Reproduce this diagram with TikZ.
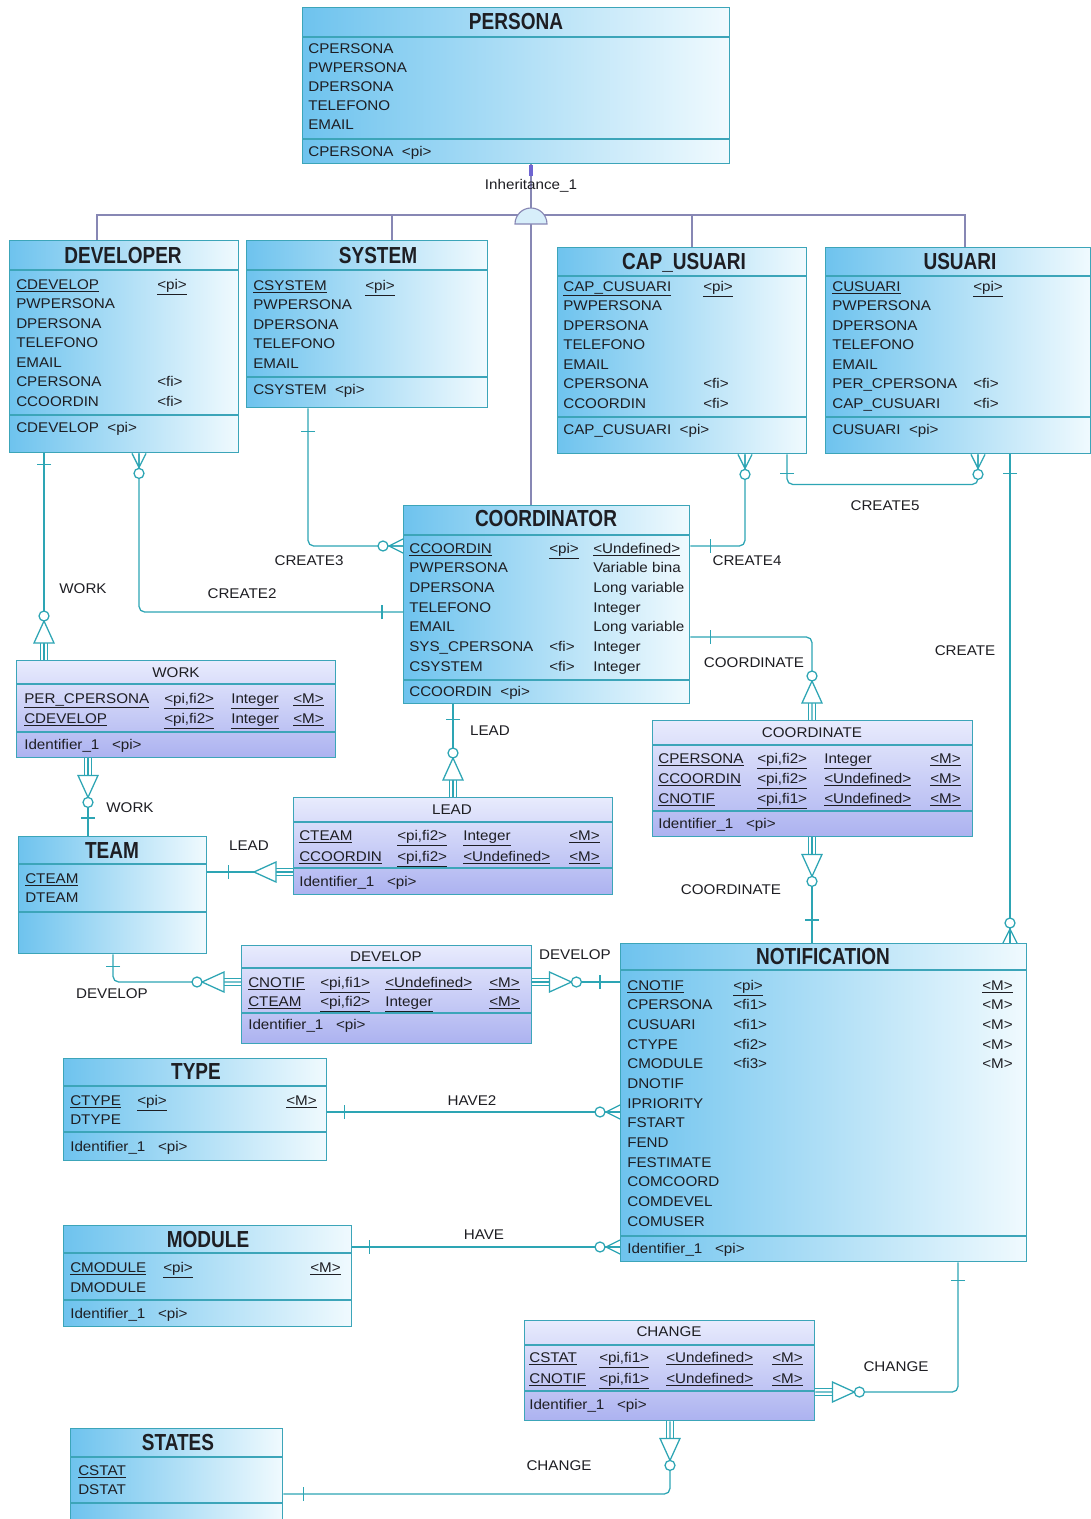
\documentclass[tikz,border=0pt]{standalone}
\usepackage{fontspec}
\setmainfont{Liberation Sans}[FakeStretch=1.08]
\newfontfamily\titlefont{Liberation Sans}[FakeStretch=0.82]
\usetikzlibrary{calc}

\definecolor{relcol}{RGB}{45,165,180}
\definecolor{boxline}{RGB}{60,165,185}
\definecolor{entleft}{RGB}{110,195,238}
\definecolor{entright}{RGB}{240,250,254}
\definecolor{asstop}{RGB}{232,235,253}
\definecolor{assbot}{RGB}{172,178,240}
\definecolor{inhcol}{RGB}{135,135,180}
\definecolor{inhmark}{RGB}{110,100,210}
\definecolor{domefill}{RGB}{215,238,250}
\definecolor{txt}{RGB}{30,30,35}

\tikzset{
  endline/.style={relcol, line width=0.9pt},
  pics/one/.style={code={\draw[endline] (#1,-7) -- (#1,7);}},
  pics/many/.style={code={
    \draw[endline] (0,-7) -- (14,0) -- (0,7) (0,0) -- (14,0);
    \draw[endline, fill=white] (20,0) circle[radius=5];
  }},
  pics/dep/.style={code={
    \draw[endline] (0,-3.5) -- (17,-3.5) (0,3.5) -- (17,3.5);
    \draw[endline, fill=white] (17,-10) -- (39,0) -- (17,10) -- cycle;
  }},
  pics/depc/.style={code={
    \draw[endline] (0,-3.5) -- (17,-3.5) (0,3.5) -- (17,3.5);
    \draw[endline, fill=white] (17,-10) -- (39,0) -- (17,10) -- cycle;
    \draw[endline, fill=white] (44,0) circle[radius=5];
  }},
}

\begin{document}
\begin{tikzpicture}[x=0.025cm, y=-0.025cm,
  every node/.style={text=txt, inner sep=0pt, font=\fontsize{10}{12}\selectfont},
  boxsize/.style 2 args={minimum width=#1*0.025cm, minimum height=#2*0.025cm},
  entity/.style={draw=boxline, line width=1pt, left color=entleft, right color=entright, anchor=north west},
  assoc/.style={draw=boxline, line width=1pt, top color=asstop, bottom color=assbot, anchor=north west},
  sep/.style={boxline, line width=0.9pt},
  attr/.style={anchor=base west},
  title/.style={anchor=base, font=\titlefont\bfseries\fontsize{16.5}{18}\selectfont},
  atitle/.style={anchor=base},
  lab/.style={anchor=base},
  rel/.style={relcol, line width=0.9pt, rounded corners=4pt},
  inhline/.style={inhcol, line width=0.8pt},
]
\path[use as bounding box, fill=white] (0,0) rectangle (1091,1519);

% PERSONA
\node[entity, boxsize={427}{156}] (persona) at (302,7) {};
\draw[sep] (302,37) -- (729,37) (302,139) -- (729,139);
\node[title] (persona-t) at (516,29) {PERSONA};
\foreach \a [count=\i from 0] in {CPERSONA,PWPERSONA,DPERSONA,TELEFONO,EMAIL}
  \node[attr] (persona-a\i) at (308,{53+19*\i}) {\a};
\node[attr] (persona-id) at (308,156) {CPERSONA~~<pi>};

% DEVELOPER
\node[entity, boxsize={229}{212}] (developer) at (9,240) {};
\draw[sep] (9,270) -- (238,270) (9,415) -- (238,415);
\node[title] (developer-t) at (123,263) {DEVELOPER};
\foreach \a [count=\i from 0] in {\underline{CDEVELOP},PWPERSONA,DPERSONA,TELEFONO,EMAIL,CPERSONA,CCOORDIN}
  \node[attr] (developer-a\i) at (16,{289+19.5*\i}) {\a};
\node[attr] (developer-k0) at (157,289) {\underline{<pi>}};
\node[attr] (developer-k5) at (157,386.5) {<fi>};
\node[attr] (developer-k6) at (157,406) {<fi>};
\node[attr] (developer-id) at (16,432) {CDEVELOP~~<pi>};

% SYSTEM
\node[entity, boxsize={241}{167}] (system) at (246,240) {};
\draw[sep] (246,270) -- (487,270) (246,377) -- (487,377);
\node[title] (system-t) at (378,263) {SYSTEM};
\foreach \a [count=\i from 0] in {\underline{CSYSTEM},PWPERSONA,DPERSONA,TELEFONO,EMAIL}
  \node[attr] (system-a\i) at (253,{290+19.5*\i}) {\a};
\node[attr] (system-k0) at (365,290) {\underline{<pi>}};
\node[attr] (system-id) at (253,394) {CSYSTEM~~<pi>};

% CAP_USUARI
\node[entity, boxsize={249}{206}] (capusuari) at (557,247) {};
\draw[sep] (557,276) -- (806,276) (557,417) -- (806,417);
\node[title] (capusuari-t) at (684,269) {CAP\_USUARI};
\foreach \a [count=\i from 0] in {\underline{CAP\_CUSUARI},PWPERSONA,DPERSONA,TELEFONO,EMAIL,CPERSONA,CCOORDIN}
  \node[attr] (capusuari-a\i) at (563,{291+19.5*\i}) {\a};
\node[attr] (capusuari-k0) at (703,291) {\underline{<pi>}};
\node[attr] (capusuari-k5) at (703,388.5) {<fi>};
\node[attr] (capusuari-k6) at (703,408) {<fi>};
\node[attr] (capusuari-id) at (563,434) {CAP\_CUSUARI~~<pi>};

% USUARI
\node[entity, boxsize={265}{206}] (usuari) at (825,247) {};
\draw[sep] (825,276) -- (1090,276) (825,417) -- (1090,417);
\node[title] (usuari-t) at (960,269) {USUARI};
\foreach \a [count=\i from 0] in {\underline{CUSUARI},PWPERSONA,DPERSONA,TELEFONO,EMAIL,PER\_CPERSONA,CAP\_CUSUARI}
  \node[attr] (usuari-a\i) at (832,{291+19.5*\i}) {\a};
\node[attr] (usuari-k0) at (973,291) {\underline{<pi>}};
\node[attr] (usuari-k5) at (973,388.5) {<fi>};
\node[attr] (usuari-k6) at (973,408) {<fi>};
\node[attr] (usuari-id) at (832,434) {CUSUARI~~<pi>};

% COORDINATOR
\node[entity, boxsize={286}{198}] (coordinator) at (403,505) {};
\draw[sep] (403,535) -- (689,535) (403,680) -- (689,680);
\node[title] (coordinator-t) at (546,526) {COORDINATOR};
\foreach \a/\d [count=\i from 0] in {\underline{CCOORDIN}/\underline{<Undefined>},PWPERSONA/Variable bina,DPERSONA/Long variable,TELEFONO/Integer,EMAIL/Long variable,SYS\_CPERSONA/Integer,CSYSTEM/Integer} {
  \node[attr] (coordinator-a\i) at (409,{553+19.67*\i}) {\a};
  \node[attr] (coordinator-d\i) at (593,{553+19.67*\i}) {\d};
}
\node[attr] (coordinator-k0) at (549,553) {\underline{<pi>}};
\node[attr] (coordinator-k5) at (549,651.4) {<fi>};
\node[attr] (coordinator-k6) at (549,671) {<fi>};
\node[attr] (coordinator-id) at (409,696) {CCOORDIN~~<pi>};

% WORK
\node[assoc, boxsize={319}{97}] (work) at (16,660) {};
\draw[sep] (16,684) -- (335,684) (16,732) -- (335,732);
\node[atitle] (work-t) at (176,677) {WORK};
\foreach \a [count=\i from 0] in {PER\_CPERSONA,CDEVELOP} {
  \node[attr] (work-a\i) at (24,{703+20*\i}) {\underline{\a}};
  \node[attr] (work-k\i) at (164,{703+20*\i}) {\underline{<pi,fi2>}};
  \node[attr] (work-d\i) at (231,{703+20*\i}) {\underline{Integer}};
  \node[attr] (work-m\i) at (293,{703+20*\i}) {\underline{<M>}};
}
\node[attr] (work-id) at (24,749) {Identifier\_1~~~<pi>};

% TEAM
\node[entity, boxsize={188}{117}] (team) at (18,836) {};
\draw[sep] (18,864) -- (206,864) (18,912) -- (206,912);
\node[title] (team-t) at (112,858) {TEAM};
\node[attr] (team-a0) at (25,883) {\underline{CTEAM}};
\node[attr] (team-a1) at (25,902) {DTEAM};

% LEAD
\node[assoc, boxsize={319}{97}] (lead) at (293,797) {};
\draw[sep] (293,822) -- (612,822) (293,868) -- (612,868);
\node[atitle] (lead-t) at (452,814) {LEAD};
\foreach \a/\d [count=\i from 0] in {CTEAM/Integer,CCOORDIN/<Undefined>} {
  \node[attr] (lead-a\i) at (299,{840+21*\i}) {\underline{\a}};
  \node[attr] (lead-k\i) at (397,{840+21*\i}) {\underline{<pi,fi2>}};
  \node[attr] (lead-d\i) at (463,{840+21*\i}) {\underline{\d}};
  \node[attr] (lead-m\i) at (569,{840+21*\i}) {\underline{<M>}};
}
\node[attr] (lead-id) at (299,886) {Identifier\_1~~~<pi>};

% COORDINATE
\node[assoc, boxsize={320}{116}] (coordinate) at (652,720) {};
\draw[sep] (652,745) -- (972,745) (652,811) -- (972,811);
\node[atitle] (coordinate-t) at (812,737) {COORDINATE};
\foreach \a/\k/\d [count=\i from 0] in {CPERSONA/fi2/Integer,CCOORDIN/fi2/<Undefined>,CNOTIF/fi1/<Undefined>} {
  \node[attr] (coordinate-a\i) at (658,{763+20*\i}) {\underline{\a}};
  \node[attr] (coordinate-k\i) at (757,{763+20*\i}) {\underline{<pi,\k>}};
  \node[attr] (coordinate-d\i) at (824,{763+20*\i}) {\underline{\d}};
  \node[attr] (coordinate-m\i) at (930,{763+20*\i}) {\underline{<M>}};
}
\node[attr] (coordinate-id) at (658,828) {Identifier\_1~~~<pi>};

% DEVELOP
\node[assoc, boxsize={290}{98}] (develop) at (241,945) {};
\draw[sep] (241,968) -- (531,968) (241,1013) -- (531,1013);
\node[atitle] (develop-t) at (386,961) {DEVELOP};
\foreach \a/\k/\d [count=\i from 0] in {CNOTIF/fi1/<Undefined>,CTEAM/fi2/Integer} {
  \node[attr] (develop-a\i) at (248,{987+19*\i}) {\underline{\a}};
  \node[attr] (develop-k\i) at (320,{987+19*\i}) {\underline{<pi,\k>}};
  \node[attr] (develop-d\i) at (385,{987+19*\i}) {\underline{\d}};
  \node[attr] (develop-m\i) at (489,{987+19*\i}) {\underline{<M>}};
}
\node[attr] (develop-id) at (248,1029) {Identifier\_1~~~<pi>};

% NOTIFICATION
\node[entity, boxsize={406}{318}] (notification) at (620,943) {};
\draw[sep] (620,970) -- (1026,970) (620,1236) -- (1026,1236);
\node[title] (notification-t) at (823,964) {NOTIFICATION};
\foreach \a [count=\i from 0] in {\underline{CNOTIF},CPERSONA,CUSUARI,CTYPE,CMODULE,DNOTIF,IPRIORITY,FSTART,FEND,FESTIMATE,COMCOORD,COMDEVEL,COMUSER}
  \node[attr] (notification-a\i) at (627,{990+19.67*\i}) {\a};
\foreach \k/\m [count=\i from 0] in {\underline{<pi>}/\underline{<M>},<fi1>/<M>,<fi1>/<M>,<fi2>/<M>,<fi3>/<M>} {
  \node[attr] (notification-k\i) at (733,{990+19.67*\i}) {\k};
  \node[attr] (notification-m\i) at (982,{990+19.67*\i}) {\m};
}
\node[attr] (notification-id) at (627,1253) {Identifier\_1~~~<pi>};

% TYPE
\node[entity, boxsize={263}{102}] (type) at (63,1058) {};
\draw[sep] (63,1086) -- (326,1086) (63,1132) -- (326,1132);
\node[title] (type-t) at (196,1079) {TYPE};
\node[attr] (type-a0) at (70,1105) {\underline{CTYPE}};
\node[attr] (type-a1) at (70,1124) {DTYPE};
\node[attr] (type-k0) at (137,1105) {\underline{<pi>}};
\node[attr] (type-m0) at (286,1105) {\underline{<M>}};
\node[attr] (type-id) at (70,1151) {Identifier\_1~~~<pi>};

% MODULE
\node[entity, boxsize={288}{101}] (module) at (63,1225) {};
\draw[sep] (63,1253) -- (351,1253) (63,1300) -- (351,1300);
\node[title] (module-t) at (208,1247) {MODULE};
\node[attr] (module-a0) at (70,1272) {\underline{CMODULE}};
\node[attr] (module-a1) at (70,1292) {DMODULE};
\node[attr] (module-k0) at (163,1272) {\underline{<pi>}};
\node[attr] (module-m0) at (310,1272) {\underline{<M>}};
\node[attr] (module-id) at (70,1318) {Identifier\_1~~~<pi>};

% CHANGE
\node[assoc, boxsize={290}{100}] (change) at (524,1320) {};
\draw[sep] (524,1345) -- (814,1345) (524,1391) -- (814,1391);
\node[atitle] (change-t) at (669,1336) {CHANGE};
\foreach \a [count=\i from 0] in {CSTAT,CNOTIF} {
  \node[attr] (change-a\i) at (529,{1362+21*\i}) {\underline{\a}};
  \node[attr] (change-k\i) at (599,{1362+21*\i}) {\underline{<pi,fi1>}};
  \node[attr] (change-d\i) at (666,{1362+21*\i}) {\underline{<Undefined>}};
  \node[attr] (change-m\i) at (772,{1362+21*\i}) {\underline{<M>}};
}
\node[attr] (change-id) at (529,1409) {Identifier\_1~~~<pi>};

% STATES
\node[entity, boxsize={212}{97}] (states) at (70,1428) {};
\draw[sep] (70,1457) -- (282,1457) (70,1503) -- (282,1503);
\node[title] (states-t) at (178,1450) {STATES};
\node[attr] (states-a0) at (78,1475) {\underline{CSTAT}};
\node[attr] (states-a1) at (78,1494) {DSTAT};

% inheritance
\draw[inhline] ($(developer.north west)+(88,0)$) |- ($(usuari.north west)+(140,-32)$) -- ($(usuari.north west)+(140,0)$);
\draw[inhline] ($(system.north west)+(146,0)$) -- ++(0,-25);
\draw[inhline] ($(capusuari.north west)+(135,0)$) -- ++(0,-32);
\draw[inhline] ($(persona.south west)+(229,0)$) -- ++(0,45);
\draw[inhline] ($(coordinator.north west)+(128,0)$) -- ++(0,-281);
\coordinate (inh) at (531,224);
\draw[inhline, fill=domefill] ($(inh)+(-16,0)$) arc[start angle=180, end angle=360, radius=16] -- cycle;
\draw[inhmark, line width=2.5pt] ($(persona.south west)+(229,1)$) -- ++(0,11);
\node[lab] (inh-l) at (531,189) {Inheritance\_1};

% relationships
\draw[rel] ($(developer.south west)+(35,0)$) coordinate (work1) -- ($(work.north west)+(28,0)$) coordinate (work2);
\pic[rotate=-90] at (work1) {one=11};
\pic[rotate=90] at (work2) {depc};
\node[lab] (lab-work1) at (83,593) {WORK};

\draw[rel] ($(developer.south west)+(130,0)$) coordinate (cr2a) |- ($(coordinator.north west)+(0,107)$) coordinate (cr2b);
\pic[rotate=-90] at (cr2a) {many};
\pic[rotate=180] at (cr2b) {one=21};
\node[lab] (lab-cr2) at (242,598) {CREATE2};

\draw[rel] ($(system.south west)+(62,0)$) coordinate (cr3a) |- ($(coordinator.north west)+(0,41)$) coordinate (cr3b);
\pic[rotate=-90] at (cr3a) {one=23};
\pic[rotate=180] at (cr3b) {many};
\node[lab] (lab-cr3) at (309,565) {CREATE3};

\draw[rel] ($(capusuari.south west)+(188,0)$) coordinate (cr4a) |- ($(coordinator.north east)+(0,41)$) coordinate (cr4b);
\pic[rotate=-90] at (cr4a) {many};
\pic at (cr4b) {one=20};
\node[lab] (lab-cr4) at (747,565) {CREATE4};

\draw[rel] ($(capusuari.south west)+(230,0)$) coordinate (cr5a) -- ++(0,30) -| ($(usuari.south west)+(153,0)$) coordinate (cr5b);
\pic[rotate=-90] at (cr5a) {one=19};
\pic[rotate=-90] at (cr5b) {many};
\node[lab] (lab-cr5) at (885,510) {CREATE5};

\draw[rel] ($(usuari.south west)+(185,0)$) coordinate (cra) -- ($(notification.north west)+(390,0)$) coordinate (crb);
\pic[rotate=-90] at (cra) {one=19};
\pic[rotate=90] at (crb) {many};
\node[lab] (lab-cr) at (965,655) {CREATE};

\draw[rel] ($(coordinator.north east)+(0,132)$) coordinate (co1a) -| ($(coordinate.north west)+(160,0)$) coordinate (co1b);
\pic at (co1a) {one=20};
\pic[rotate=90] at (co1b) {depc};
\node[lab] (lab-co1) at (754,667) {COORDINATE};

\draw[rel] ($(coordinate.south west)+(160,0)$) coordinate (co2a) -- ($(notification.north west)+(192,0)$) coordinate (co2b);
\pic[rotate=-90] at (co2a) {depc};
\pic[rotate=90] at (co2b) {one=23};
\node[lab] (lab-co2) at (731,894) {COORDINATE};

\draw[rel] ($(coordinator.south west)+(50,0)$) coordinate (le1a) -- ($(lead.north west)+(160,0)$) coordinate (le1b);
\pic[rotate=-90] at (le1a) {one=15};
\pic[rotate=90] at (le1b) {depc};
\node[lab] (lab-le1) at (490,735) {LEAD};

\draw[rel] ($(work.south west)+(72,0)$) coordinate (work3) -- ($(team.north west)+(70,0)$) coordinate (work4);
\pic[rotate=-90] at (work3) {depc};
\pic[rotate=90] at (work4) {one=18};
\node[lab] (lab-work2) at (130,812) {WORK};

\draw[rel] ($(lead.north west)+(0,75)$) coordinate (le2a) -- ($(team.north east)+(0,36)$) coordinate (le2b);
\pic[rotate=180] at (le2a) {dep};
\pic at (le2b) {one=21};
\node[lab] (lab-le2) at (249,850) {LEAD};

\draw[rel] ($(team.south west)+(95,0)$) coordinate (de1a) |- ($(develop.north west)+(0,37)$) coordinate (de1b);
\pic[rotate=-90] at (de1a) {one=12};
\pic[rotate=180] at (de1b) {depc};
\node[lab] (lab-de1) at (112,998) {DEVELOP};

\draw[rel] ($(develop.north east)+(0,37)$) coordinate (de2a) -- ($(notification.north west)+(0,39)$) coordinate (de2b);
\pic at (de2a) {depc};
\pic[rotate=180] at (de2b) {one=20};
\node[lab] (lab-de2) at (575,959) {DEVELOP};

\draw[rel] ($(type.north east)+(0,54)$) coordinate (ha2a) -- ($(notification.north west)+(0,169)$) coordinate (ha2b);
\pic at (ha2a) {one=17};
\pic[rotate=180] at (ha2b) {many};
\node[lab] (lab-ha2) at (472,1105) {HAVE2};

\draw[rel] ($(module.north east)+(0,22)$) coordinate (ha1a) -- ($(notification.north west)+(0,304)$) coordinate (ha1b);
\pic at (ha1a) {one=17};
\pic[rotate=180] at (ha1b) {many};
\node[lab] (lab-ha1) at (484,1239) {HAVE};

\draw[rel] ($(notification.south west)+(338,0)$) coordinate (ch1a) |- ($(change.north east)+(0,72)$) coordinate (ch1b);
\pic[rotate=-90] at (ch1a) {one=18};
\pic at (ch1b) {depc};
\node[lab] (lab-ch1) at (896,1371) {CHANGE};

\draw[rel] ($(states.north east)+(0,66)$) coordinate (ch2a) -| ($(change.south west)+(146,0)$) coordinate (ch2b);
\pic at (ch2a) {one=20};
\pic[rotate=-90] at (ch2b) {depc};
\node[lab] (lab-ch2) at (559,1470) {CHANGE};
\end{tikzpicture}
\end{document}
